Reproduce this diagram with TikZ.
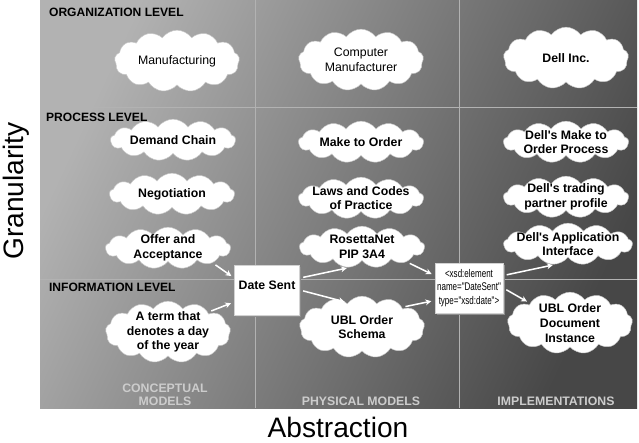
\documentclass[tikz,border=0pt]{standalone}
\usepackage{fontspec}
\setmainfont{Liberation Sans}
\newfontfamily\narrowfont[FakeStretch=0.72]{Liberation Sans}
\usetikzlibrary{shapes.symbols,arrows.meta,shadows}

\begin{document}
\begin{tikzpicture}[x=0.03cm,y=-0.03cm,
    puff/.style={cloud,cloud puffs=13,cloud puff arc=110,cloud ignores aspect,draw=gray!45,fill=white,align=center,inner xsep=-4pt,inner ysep=-9pt,minimum width=3.75cm,minimum height=1.25cm,font=\fontsize{10.5}{12.5}\selectfont\bfseries},
    bigpuff/.style={puff,minimum height=1.85cm},
    card/.style={rectangle,draw=gray!35,fill=white,align=center,drop shadow={shadow xshift=1.5pt,shadow yshift=-1.5pt,fill=black!45,opacity=1}},
    level/.style={anchor=west,font=\fontsize{10.3}{12}\selectfont\bfseries},
    column/.style={align=center,text=black!20,font=\fontsize{10.5}{11.5}\selectfont\bfseries},
    divider/.style={black!30,line width=0.6pt},
    flow/.style={white,line width=1.3pt,-{Stealth[length=5pt,width=5pt]},shorten <=3pt,shorten >=3pt}]
  \useasboundingbox (0,0) rectangle (639,442);
  % background grid
  \shade[left color=black!30,right color=black!72,shading angle=65] (40,0) rectangle (637,408);
  \draw[divider] (255,0) -- (255,408);
  \draw[divider] (459,0) -- (459,408);
  \draw[divider] (40,107) -- (637,107);
  \draw[divider] (40,279) -- (637,279);

  % axes
  \node[rotate=90,font=\fontsize{24}{28}\selectfont] (gran) at (16,191) {Granularity};
  \node[font=\fontsize{24}{28}\selectfont] (abst) at (338,427) {Abstraction};

  % levels and columns
  \node[level] (orglvl) at (45,12) {ORGANIZATION LEVEL};
  \node[level] (proclvl) at (42,117) {PROCESS LEVEL};
  \node[level] (infolvl) at (45,287) {INFORMATION LEVEL};
  \node[column] (concol) at (165,395) {CONCEPTUAL\\MODELS};
  \node[column] (phycol) at (361,401) {PHYSICAL MODELS};
  \node[column] (impcol) at (556,401) {IMPLEMENTATIONS};

  % conceptual models
  \node[bigpuff,font=\fontsize{10.5}{12.5}\selectfont] (manuf) at (177,61) {Manufacturing};
  \node[puff] (demand) at (173,140) {Demand Chain};
  \node[puff] (nego) at (172,194) {Negotiation};
  \node[puff] (offer) at (168,248) {Offer and\\Acceptance};
  \node[bigpuff] (term) at (168,332) {A term that\\denotes a day\\of the year};

  % physical models
  \node[bigpuff,font=\fontsize{10.5}{12.5}\selectfont] (compman) at (361,60) {Computer\\Manufacturer};
  \node[puff] (mto) at (361,142) {Make to Order};
  \node[puff] (laws) at (361,198) {Laws and Codes\\of Practice};
  \node[puff] (rosetta) at (362,247) {RosettaNet\\PIP 3A4};
  \node[bigpuff] (schema) at (362,327) {UBL Order\\Schema};

  % implementations
  \node[bigpuff] (dell) at (566,58) {Dell Inc.};
  \node[puff] (dellmto) at (566,142) {Dell\textquotesingle s Make to\\Order Process};
  \node[puff] (partner) at (566,197) {Dell\textquotesingle s trading\\partner profile};
  \node[puff] (api) at (568,244) {Dell\textquotesingle s Application\\Interface};
  \node[bigpuff] (instance) at (570,323) {UBL Order\\Document\\Instance};

  % information items
  \node[card,minimum width=1.95cm,minimum height=1.5cm,text depth=8pt,font=\fontsize{10.5}{12}\selectfont\bfseries] (date) at (267,290) {Date Sent};
  \node[card,minimum width=2.04cm,minimum height=1.5cm,inner sep=1pt,font=\narrowfont\fontsize{9.5}{11.2}\selectfont] (xsd) at (469,288) {<xsd:element\\name="DateSent"\\type="xsd:date">};

  \draw[flow] (offer.south east) -- (date.160);
  \draw[flow] (term.north east) -- (date.200);
  \draw[flow] (date.20) -- (rosetta.240);
  \draw[flow] (date.east) -- (schema.120);
  \draw[flow] (rosetta.south east) -- (xsd.160);
  \draw[flow] (schema.north east) -- (xsd.200);
  \draw[flow] (xsd.20) -- (api.240);
  \draw[flow] (xsd.east) -- (instance.north west);
\end{tikzpicture}
\end{document}
